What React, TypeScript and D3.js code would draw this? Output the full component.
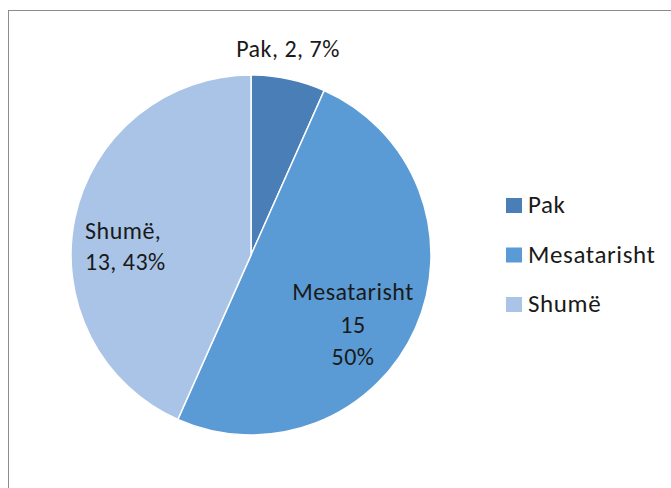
import React, { useRef, useEffect } from 'react';
import * as d3 from 'd3';

const categories = ['Pak', 'Mesatarisht', 'Shumë'];
const values = [2, 15, 13];
const percents = ['7%', '50%', '43%'];
const colors = ['#4a7eb6', '#5b9bd5', '#a9c4e6'];

const App = () => {
  const svgRef = useRef<SVGSVGElement | null>(null);

  useEffect(() => {
    const width = 671;
    const height = 488;
    const cx = 251;
    const cy = 255;
    const radius = 180;
    const font = 'Carlito, Calibri, "Open Sans", sans-serif';

    const svg = d3.select(svgRef.current);
    svg.selectAll('*').remove();
    svg.attr('width', width).attr('height', height);

    svg.append('rect').attr('width', width).attr('height', height).attr('fill', '#fff');

    // chart frame
    svg.append('rect')
      .attr('x', 8.5).attr('y', 10.5)
      .attr('width', width + 10).attr('height', height + 10)
      .attr('fill', 'none').attr('stroke', '#8c8c8c').attr('stroke-width', 1);

    const data = categories.map((c, i) => ({ name: c, value: values[i], pct: percents[i] }));

    const pie = d3.pie<any>().value(d => d.value).sort(null);
    const arc = d3.arc<any>().innerRadius(0).outerRadius(radius);
    const arcs = pie(data);

    const g = svg.append('g').attr('transform', `translate(${cx},${cy})`);
    g.selectAll('path')
      .data(arcs)
      .join('path')
      .attr('d', arc)
      .attr('fill', (d, i) => colors[i])
      .attr('stroke', '#fff')
      .attr('stroke-width', 1.5);

    // data labels
    const labelLines = [
      { lines: [`${data[0].name}, ${data[0].value}, ${data[0].pct}`], x: 288, y: 57, anchor: 'middle', gap: 0 },
      { lines: [data[1].name, `${data[1].value}`, data[1].pct], x: 353, y: 300, anchor: 'middle', gap: 32.5 },
      { lines: [`${data[2].name},`, `${data[2].value}, ${data[2].pct}`], x: 85, y: 239, anchor: 'start', gap: 31 },
    ];
    labelLines.forEach(l => {
      const t = svg.append('text')
        .attr('x', l.x).attr('y', l.y)
        .attr('text-anchor', l.anchor)
        .style('font-family', font).style('font-size', '24px').style('letter-spacing', '0.5px')
        .attr('fill', '#1a1a1a');
      l.lines.forEach((s, i) => {
        t.append('tspan').attr('x', l.x).attr('dy', i === 0 ? 0 : l.gap).text(s);
      });
    });

    // legend
    const legend = svg.append('g').attr('transform', 'translate(506,198)');
    const item = legend.selectAll('g')
      .data(categories)
      .join('g')
      .attr('transform', (d, i) => `translate(0,${i * 49.5})`);
    item.append('rect').attr('width', 16).attr('height', 15).attr('fill', (d, i) => colors[i]);
    item.append('text')
      .attr('x', 22).attr('y', 15)
      .style('font-family', font).style('font-size', '25px').style('letter-spacing', '0.6px')
      .attr('fill', '#1a1a1a')
      .text(d => d);
  }, []);

  return (
    <div style={{ position: 'absolute', left: 0, top: 0 }}>
      <svg ref={svgRef}></svg>
    </div>
  );
};

export default App;
